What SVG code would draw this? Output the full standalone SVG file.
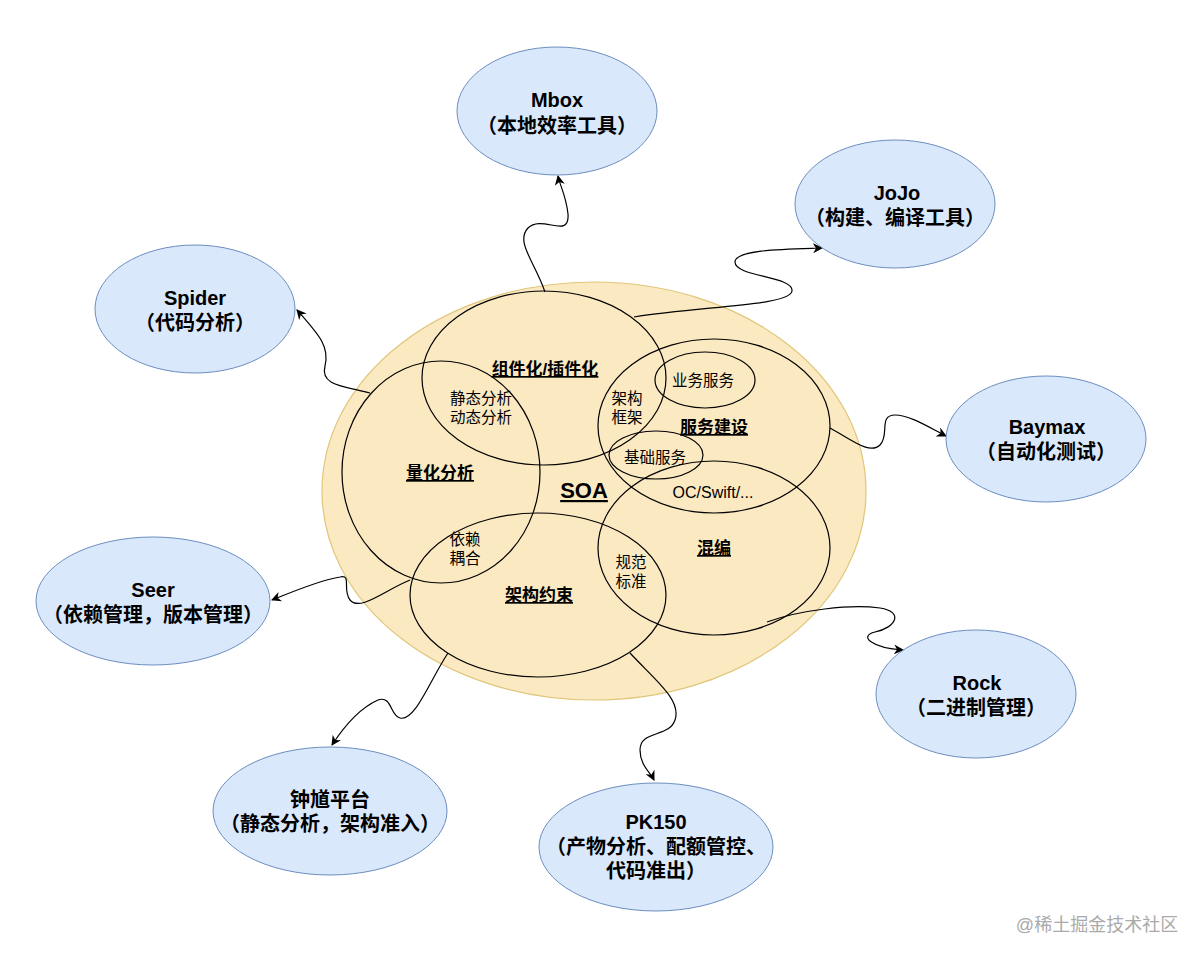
<svg xmlns="http://www.w3.org/2000/svg" width="1203" height="959" viewBox="0 0 1203 959">
<defs>
<marker id="arr" viewBox="0 0 10 10" refX="9" refY="5" markerWidth="10" markerHeight="10" markerUnits="userSpaceOnUse" orient="auto">
<path d="M0,0 L10,5 L0,10 L3,5 Z" fill="#000"/>
</marker>
<style>
.out{fill:#dae8fc;stroke:#6c8ebf;stroke-width:1}
.soa{fill:#fbe9c2;stroke:#e0c67a;stroke-width:1.2}
.inner{fill:none;stroke:#000;stroke-width:1.2}
.edge{fill:none;stroke:#000;stroke-width:1.2;marker-end:url(#arr)}
text{font-family:"Liberation Sans","Noto Sans CJK SC",sans-serif;text-anchor:middle;fill:#000}
.t{font-size:20px;font-weight:bold}
.c{font-size:20px;font-weight:bold}
.l{font-size:15.5px}
.u{font-size:17px;font-weight:bold;text-decoration:underline}
</style>
</defs>
<rect width="1203" height="959" fill="#fff"/>
<g id="soa">
<ellipse class="soa" cx="594" cy="491" rx="272" ry="209"/>
</g>
<g id="circles">
<ellipse class="inner" cx="544" cy="378" rx="122" ry="87"/>
<ellipse class="inner" cx="441" cy="472" rx="99" ry="111"/>
<ellipse class="inner" cx="714" cy="426" rx="116" ry="87"/>
<ellipse class="inner" cx="705" cy="380" rx="50" ry="28"/>
<ellipse class="inner" cx="656" cy="455" rx="47" ry="24"/>
<ellipse class="inner" cx="714" cy="548" rx="116" ry="87"/>
<ellipse class="inner" cx="538" cy="595" rx="128" ry="82"/>
</g>
<g id="inner-labels">
<text class="u" x="545" y="375">组件化/插件化</text>
<text class="l" x="481" y="404">静态分析</text>
<text class="l" x="481" y="423">动态分析</text>
<text class="u" x="440" y="479">量化分析</text>
<text class="l" x="627" y="404">架构</text>
<text class="l" x="627" y="423">框架</text>
<text class="l" x="703" y="386">业务服务</text>
<text class="u" x="714" y="433">服务建设</text>
<text class="l" x="655" y="463">基础服务</text>
<text x="584" y="498" style="font-size:22px;font-weight:bold;text-decoration:underline">SOA</text>
<text x="713" y="498" style="font-size:16px">OC/Swift/...</text>
<text class="l" x="465" y="545">依赖</text>
<text class="l" x="465" y="564">耦合</text>
<text class="l" x="631" y="568">规范</text>
<text class="l" x="631" y="587">标准</text>
<text class="u" x="714" y="554">混编</text>
<text class="u" x="539" y="601">架构约束</text>
</g>
<g id="connectors">
<path class="edge" d="M545,292 C535,262 515,242 528,228 C542,214 570,240 568,214 C566,195 560,186 558,176"/>
<path class="edge" d="M634,317 C700,306 790,306 792,291 C794,276 735,277 735,262 C735,249 790,249 822,248"/>
<path class="edge" d="M370,393 C342,386 320,385 325,366 C330,346 318,334 297,310"/>
<path class="edge" d="M830,428 C852,440 870,455 880,445 C890,435 878,415 895,415 C910,415 930,428 946,436"/>
<path class="edge" d="M767,622 C800,610 850,604 880,608 C905,612 895,628 875,632 C858,636 872,648 903,650"/>
<path class="edge" d="M410,580 C385,590 360,612 350,600 C342,590 352,574 340,577 C320,580 292,592 272,600"/>
<path class="edge" d="M448,653 C430,680 415,722 400,718 C390,716 392,695 378,700 C360,708 345,725 332,745"/>
<path class="edge" d="M630,653 C655,680 682,700 675,720 C669,738 640,730 640,750 C640,765 650,772 654,780"/>
</g>
<g id="mbox">
<ellipse class="out" cx="557" cy="111" rx="100" ry="64"/>
<text class="t" x="557" y="107">Mbox</text>
<text class="c" x="557" y="133">（本地效率工具）</text>
</g>
<g id="jojo">
<ellipse class="out" cx="895" cy="204" rx="100" ry="64"/>
<text class="t" x="897" y="200">JoJo</text>
<text class="c" x="895" y="225">（构建、编译工具）</text>
</g>
<g id="spider">
<ellipse class="out" cx="195" cy="309" rx="100" ry="64"/>
<text class="t" x="195" y="305">Spider</text>
<text class="c" x="195" y="330">（代码分析）</text>
</g>
<g id="baymax">
<ellipse class="out" cx="1046" cy="439" rx="100" ry="63"/>
<text class="t" x="1047" y="434">Baymax</text>
<text class="c" x="1046" y="459">（自动化测试）</text>
</g>
<g id="seer">
<ellipse class="out" cx="153" cy="601" rx="117" ry="64"/>
<text class="t" x="153" y="597">Seer</text>
<text class="c" x="153" y="622">（依赖管理，版本管理）</text>
</g>
<g id="rock">
<ellipse class="out" cx="976" cy="694" rx="100" ry="64"/>
<text class="t" x="977" y="690">Rock</text>
<text class="c" x="976" y="715">（二进制管理）</text>
</g>
<g id="zhongkui">
<ellipse class="out" cx="330" cy="811" rx="117" ry="64"/>
<text class="t" x="330" y="807">钟馗平台</text>
<text class="c" x="330" y="831">（静态分析，架构准入）</text>
</g>
<g id="pk150">
<ellipse class="out" cx="656" cy="847" rx="117" ry="64"/>
<text class="t" x="656" y="829">PK150</text>
<text class="c" x="656" y="854">（产物分析、配额管控、</text>
<text class="c" x="656" y="878">代码准出）</text>
</g>
<g id="watermark">
<text x="1097" y="931" style="font-size:18px;fill:#aaa">@稀土掘金技术社区</text>
</g>
</svg>
